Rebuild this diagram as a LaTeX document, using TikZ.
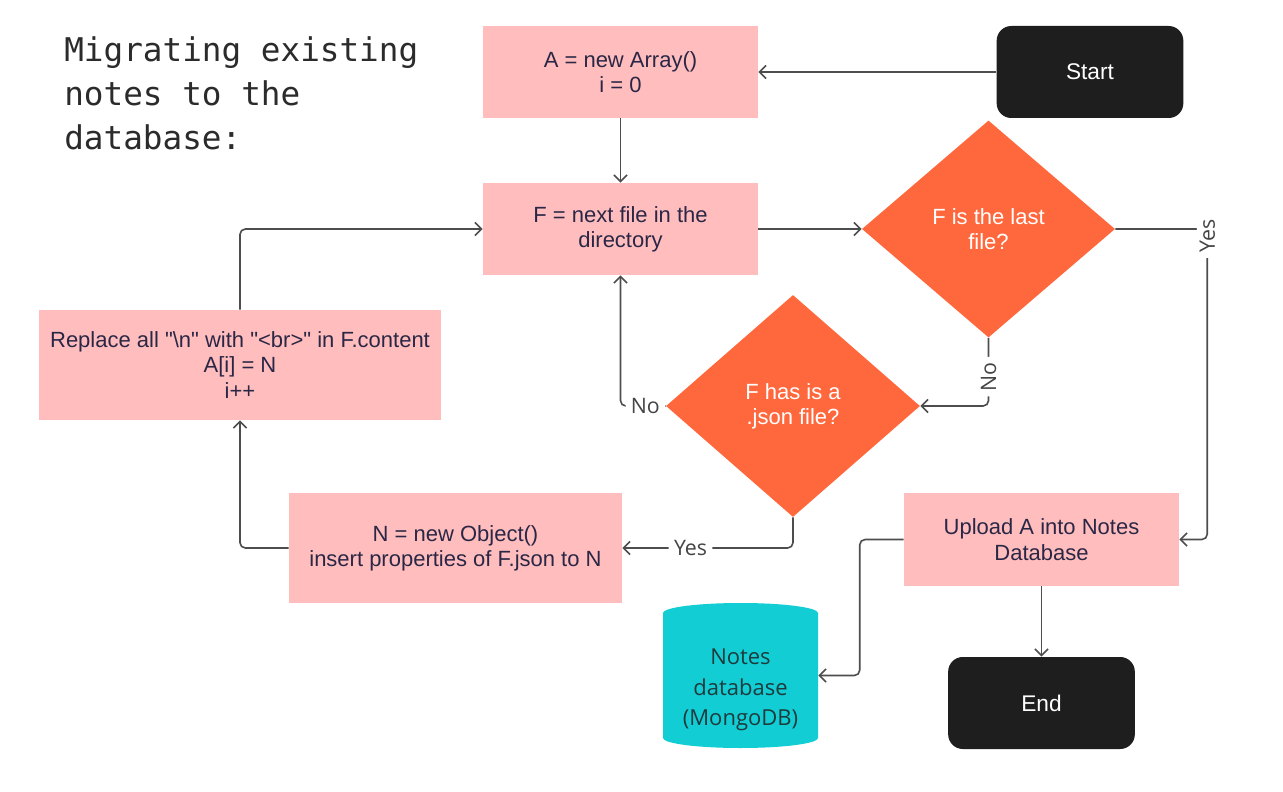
\documentclass[tikz,border=0pt]{standalone}
\usepackage{fontspec}
\setmainfont{Liberation Sans}[Ligatures=TeXOff]
\newfontfamily\monofont{DejaVu Sans Mono}
\newfontfamily\lblfont{Open Sans}
\usetikzlibrary{arrows.meta,shapes.geometric}
\definecolor{boxpink}{HTML}{FFBDBD}
\definecolor{boxtext}{HTML}{2A2746}
\definecolor{termblack}{HTML}{1E1E1E}
\definecolor{decorange}{HTML}{FF683D}
\definecolor{dbcyan}{HTML}{12CDD4}
\definecolor{dbtext}{HTML}{1D3B3D}
\definecolor{linegray}{HTML}{4D4D4D}
\definecolor{lblgray}{HTML}{444444}
\definecolor{titlegray}{HTML}{2B2B2B}
\tikzset{
  proc/.style={rectangle, fill=boxpink, text=boxtext, font=\fontsize{16.5}{19}\selectfont, align=center, inner sep=0pt},
  term/.style={rectangle, rounded corners=11pt, fill=termblack, text=white, font=\fontsize{17}{20}\selectfont, inner sep=0pt, minimum width=140pt, minimum height=69pt},
  dec/.style={diamond, fill=decorange, text=white, font=\fontsize{16.5}{19}\selectfont, align=center, inner sep=0pt},
  conn/.style={draw=linegray, line width=1.2pt, rounded corners=4pt, -{Straight Barb[length=5pt,width=10pt]}},
  lbl/.style={fill=white, text=lblgray, font=\lblfont\fontsize{16}{19}\selectfont, inner xsep=4pt, inner ysep=2pt},
  ttl/.style={text=titlegray, font=\monofont\fontsize{24.5}{33}\selectfont, inner sep=0pt, anchor=base west}
}
\begin{document}
\begin{tikzpicture}[x=0.75pt,y=-0.75pt]
\useasboundingbox[fill=white] (0,0) rectangle (1283,792);

% title
\node[ttl] (t1) at (64,62) {Migrating existing};
\node[ttl] (t2) at (64,106) {notes to the};
\node[ttl] (t3) at (64,150) {database:};

% nodes
\node[proc, minimum width=206.25pt, minimum height=69pt] (abox) at (620.5,72) {A = new Array()\\i = 0};
\node[term] (start) at (1090,72) {Start};
\node[proc, minimum width=206.25pt, minimum height=69pt] (fbox) at (620.5,229) {F = next file in the\\directory};
\node[dec, minimum width=189.75pt, minimum height=162.75pt] (d1) at (988.5,229) {F is the last\\file?};
\node[dec, minimum width=190.5pt, minimum height=166.5pt] (d2) at (793,406) {F has is a\\.json file?};
\node[proc, minimum width=301.5pt, minimum height=82.5pt] (rbox) at (240,365) {Replace all "\textbackslash n" with "<br>" in F.content\\A[i] = N\\i++};
\node[proc, minimum width=249.75pt, minimum height=82.5pt] (nbox) at (455.5,548) {N = new Object()\\insert properties of F.json to N};
\node[proc, minimum width=206.25pt, minimum height=69.75pt] (upload) at (1041.5,539.5) {Upload A into Notes\\Database};
\node[term] (endn) at (1041.5,703) {End};

% database cylinder
\fill[dbcyan] (663,613) arc[start angle=180,end angle=0,x radius=58.125pt,y radius=7.5pt]
  -- (818,738) arc[start angle=0,end angle=-180,x radius=58.125pt,y radius=7.5pt] -- cycle;
\node[inner sep=0pt, minimum width=116.25pt, minimum height=108.75pt] (db) at (740.5,675.5) {};
\node[text=dbtext, font=\lblfont\fontsize{16.5}{23}\selectfont, align=center, inner sep=0pt] (dbt) at (740.5,690) {Notes\\database\\(MongoDB)};

% connectors
\draw[conn] (start.west) -- (abox.east);
\draw[conn] (abox.south) -- (fbox.north);
\draw[conn] (fbox.east) -- (d1.west);
\draw[conn] (d1.east) -- ++(92,0) coordinate (c1) -- node[lbl, rotate=90, pos=0.023] {Yes} (c1 |- upload.east) -- (upload.east);
\draw[conn] (d1.south) -- node[lbl, rotate=90, pos=0.57] {No} (d1.south |- d2.east) -- (d2.east);
\draw[conn] (d2.west) -- node[lbl, pos=0.45] {No} (fbox.south |- d2.west) -- (fbox.south);
\draw[conn] (d2.south) -- (d2.south |- nbox.east) -- node[lbl, pos=0.6] {Yes} (nbox.east);
\draw[conn] (nbox.west) -- (rbox.south |- nbox.west) -- (rbox.south);
\draw[conn] (rbox.north) -- (rbox.north |- fbox.west) -- (fbox.west);
\draw[conn] (upload.west) -- ++(-44,0) coordinate (c3) -- (c3 |- db.east) -- (db.east);
\draw[conn] (upload.south) -- (endn.north);
\end{tikzpicture}
\end{document}
